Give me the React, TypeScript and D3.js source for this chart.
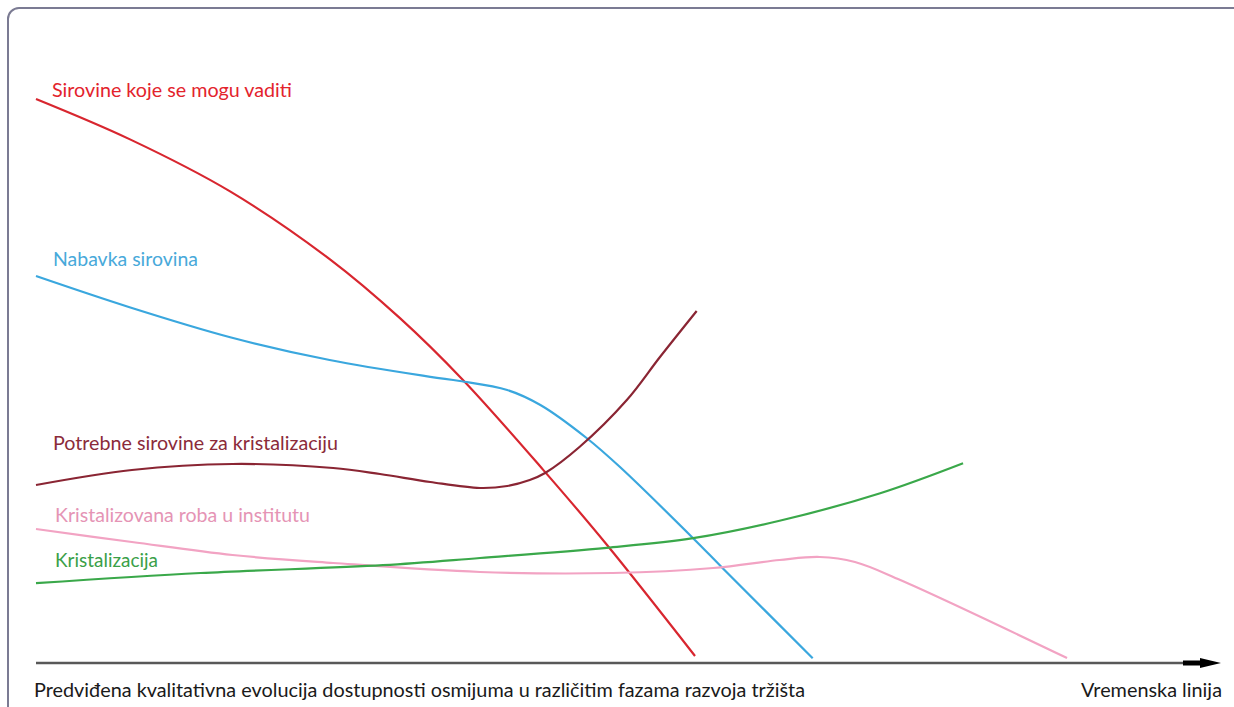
import React, { ReactElement } from "react";
import * as d3 from "d3";

// time position (0..100) and level (0..100)
const redX = [0, 7.94, 16.39, 24.83, 30.74, 36.06, 42.82, 48.23, 55.66];
const redY = [94, 87.27, 78.6, 67.27, 57.47, 47.17, 32.23, 19.67, 1.17];

const blueX = [0, 7.9, 16.4, 24.8, 33.3, 35.8, 39.8, 42.6, 46.5, 49.3, 55.5, 58.0, 65.6];
const blueY = [64.5, 59.3, 54.3, 50.5, 47.7, 47.0, 45.5, 43, 37.5, 32.7, 20.8, 15.8, 0.8];

const brownX = [0, 8.1, 16.6, 25.1, 29.05, 33.3, 37.5, 39.8, 41.7, 43, 45.9, 49.9, 52.7, 55.8];
const brownY = [29.67, 32.17, 33.17, 32.5, 31.5, 30.17, 29.17, 29.5, 30.5, 31.67, 36, 43.83, 51, 58.67];

const pinkX = [0, 8.1, 16.6, 25.1, 37.5, 48.7, 57.2, 62.8, 66.2, 69.17, 73.0, 87.08];
const pinkY = [22.33, 20.17, 18, 16.67, 15.17, 15, 15.83, 17.17, 17.67, 16.83, 13.83, 0.83];

const greenX = [0, 13.9, 29.3, 37.5, 48.2, 55.5, 62.8, 71.3, 78.3];
const greenY = [13.3, 15, 16.3, 17.5, 19.2, 20.8, 23.7, 28.3, 33.3];

const seriesNames = [
  "Sirovine koje se mogu vaditi",
  "Nabavka sirovina",
  "Potrebne sirovine za kristalizaciju",
  "Kristalizovana roba u institutu",
  "Kristalizacija",
];
const xTitle =
  "Predviđena kvalitativna evolucija dostupnosti osmijuma u različitim fazama razvoja tržišta";
const axisName = "Vremenska linija";

const series = [
  { name: seriesNames[0], xs: redX, ys: redY, stroke: "#d8262f", text: "#e3232c", lx: 52, ly: 97, lw: 240 },
  { name: seriesNames[1], xs: blueX, ys: blueY, stroke: "#3aa7de", text: "#48a9da", lx: 53, ly: 266, lw: 145 },
  { name: seriesNames[2], xs: brownX, ys: brownY, stroke: "#8a2533", text: "#8b2b3a", lx: 53, ly: 450, lw: 285 },
  { name: seriesNames[3], xs: pinkX, ys: pinkY, stroke: "#f2a3c3", text: "#e594b5", lx: 55, ly: 522, lw: 255 },
  { name: seriesNames[4], xs: greenX, ys: greenY, stroke: "#3aa84a", text: "#3aa048", lx: 55, ly: 567, lw: 103 },
];

const FONT = "Lato, 'Open Sans', sans-serif";

function App(): ReactElement {
  const width = 1234;
  const height = 707;
  const x = d3.scaleLinear().domain([0, 100]).range([36, 1220]);
  const y = d3.scaleLinear().domain([0, 100]).range([663, 63]);

  const line = d3
    .line<[number, number]>()
    .x((d) => x(d[0]))
    .y((d) => y(d[1]))
    .curve(d3.curveCatmullRom.alpha(0.5));

  const axisY = y(0);
  const axisEnd = x(100);

  return (
    <svg
      width={width}
      height={height}
      style={{ position: "absolute", left: 0, top: 0, background: "#fff" }}
    >
      <rect
        x={8}
        y={8}
        width={1250}
        height={730}
        rx={11}
        fill="#fff"
        stroke="#7b7b93"
        strokeWidth={2}
      />

      {series.map((s) => (
        <path
          key={s.name}
          d={line(s.xs.map((v, i) => [v, s.ys[i]] as [number, number])) || ""}
          fill="none"
          stroke={s.stroke}
          strokeWidth={2.2}
        />
      ))}

      {series.map((s) => (
        <text
          key={s.name + "-label"}
          x={s.lx}
          y={s.ly}
          fill={s.text}
          fontFamily={FONT}
          fontSize={18.5}
          textLength={s.lw}
          lengthAdjust="spacingAndGlyphs"
        >
          {s.name}
        </text>
      ))}

      {/* time axis with arrow */}
      <line x1={x(0)} x2={axisEnd - 35} y1={axisY} y2={axisY} stroke="#585858" strokeWidth={2.5} />
      <rect x={axisEnd - 37} y={axisY - 2.5} width={20} height={5} fill="#000" />
      <path
        d={`M${axisEnd - 20},${axisY - 5} L${axisEnd + 1},${axisY} L${axisEnd - 20},${axisY + 5} Z`}
        fill="#000"
      />

      <text
        x={34}
        y={697}
        fill="#1a1a1a"
        fontFamily={FONT}
        fontSize={18.5}
        textLength={771}
        lengthAdjust="spacingAndGlyphs"
      >
        {xTitle}
      </text>
      <text
        x={1081}
        y={697}
        fill="#1a1a1a"
        fontFamily={FONT}
        fontSize={18.5}
        textLength={141}
        lengthAdjust="spacingAndGlyphs"
      >
        {axisName}
      </text>
    </svg>
  );
}

export default App;
